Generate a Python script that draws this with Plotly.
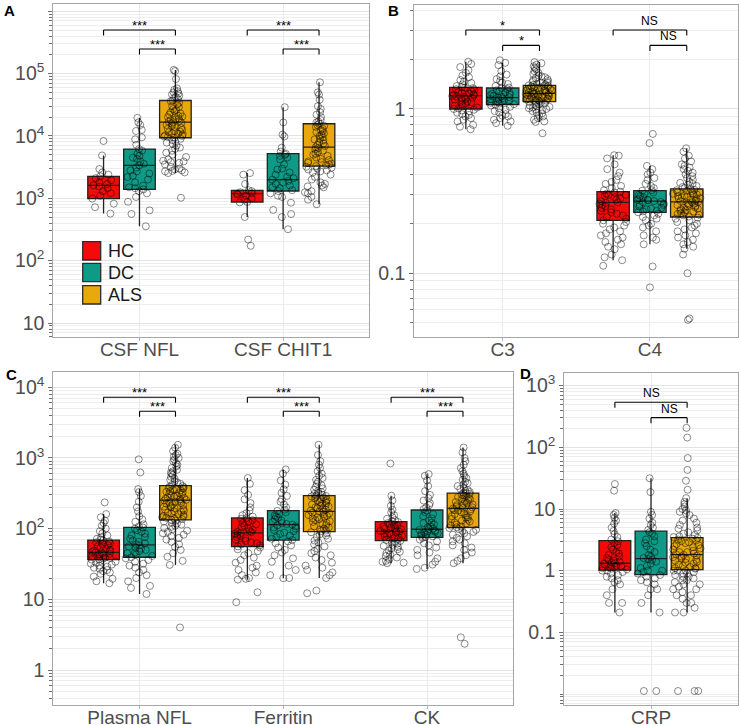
import plotly.graph_objects as go

# ---------------- data ----------------
groups = ["HC", "DC", "ALS"]

cats_a = ["CSF NFL", "CSF CHIT1"]
cats_b = ["C3", "C4"]
cats_c = ["Plasma NFL", "Ferritin", "CK"]
cats_d = ["CRP"]

# box statistics per category: [lower whisker, Q1, median, Q3, upper whisker]
box_a_hc = [[569, 990, 1615, 2250, 4870], [501, 873, 1188, 1343, 2540]]
box_a_dc = [[356, 1393, 3375, 6150, 19500], [319, 1310, 1990, 5190, 28900]]
box_a_als = [[2540, 9350, 16600, 37000, 114500], [802, 3290, 6620, 15700, 72600]]

box_b_hc = [[0.752, 1.0, 1.205, 1.355, 1.94], [0.12, 0.21, 0.27, 0.314, 0.523]]
box_b_dc = [[0.791, 1.062, 1.172, 1.342, 1.91], [0.15, 0.235, 0.275, 0.318, 0.45]]
box_b_als = [[0.833, 1.108, 1.245, 1.394, 1.93], [0.141, 0.22, 0.272, 0.326, 0.576]]

box_c_hc = [[16.9, 36.5, 46.3, 69, 161], [19, 55.7, 87, 141.6, 520], [32.4, 67.8, 91.6, 125.6, 292]]
box_c_dc = [[11.9, 39.4, 58.8, 104, 363], [19.9, 69, 114, 179.5, 689], [26.9, 75.5, 98, 183.6, 591]]
box_c_als = [[30.7, 133, 254, 405, 1535], [20, 90.8, 175.6, 292.6, 1535], [32.4, 104, 193.6, 319, 1405]]

box_d_hc = [[0.21, 1.02, 1.32, 3.08, 8.6]]
box_d_dc = [[0.21, 0.86, 1.57, 4.37, 31.5]]
box_d_als = [[0.21, 1.04, 1.82, 3.44, 15]]

csf_nfl_hc = [8300, 4870, 2950, 2600, 2400, 2250, 2100, 1950, 1800, 1700, 1615, 1550, 1450, 1300,
              1200, 1100, 990, 820, 720, 569]
csf_nfl_dc = [19500, 16500, 15000, 12500, 12000, 9500, 8800, 7200, 6150, 5800, 5200, 4800, 4300, 3900,
              3600, 3375, 3100, 2800, 2500, 2300, 2200, 2000, 1800, 1600, 1500, 1450, 1393, 1300, 1200,
              1050, 880, 640, 560, 356, 2700, 4500]
csf_nfl_als = [114500, 110000, 82000, 58000, 55000, 52000, 50000, 48000, 46000, 44000, 42000, 41000,
               39000, 37000, 36000, 34000, 32000, 30000, 29000, 27000, 26000, 25000, 24000, 23000, 22000,
               21000, 20500, 20000, 19000, 18500, 18000, 17500, 17000, 16600, 16200, 15800, 15000, 14500,
               14000, 13500, 13000, 12500, 12000, 11800, 11500, 11000, 10800, 10500, 10200, 10000, 9800,
               9600, 9350, 9000, 8600, 8200, 7800, 7500, 7000, 6500, 6200, 5800, 5400, 5000, 4600, 4200,
               4000, 3900, 3800, 3700, 3500, 3200, 3000, 2900, 2800, 2750, 2700, 2600, 2540, 1020]
csf_chit1_hc = [2540, 2400, 1700, 1343, 1300, 1250, 1200, 1188, 1150, 1100, 1000, 950, 873, 860, 501, 218, 173]
csf_chit1_dc = [28900, 16500, 10500, 9800, 6500, 5600, 5190, 5000, 4800, 4200, 3500, 3000, 2900, 2600,
                2400, 2200, 2100, 1990, 1900, 1800, 1700, 1600, 1500, 1450, 1350, 1310, 1200, 1100, 1050,
                850, 650, 560, 500, 319, 4500]
csf_chit1_als = [72600, 50000, 46000, 38000, 30000, 27000, 24000, 22000, 20000, 18000, 17000, 16500,
                 15700, 15000, 14500, 14000, 13000, 12500, 12000, 11500, 11000, 10500, 10000, 9500, 9000,
                 8800, 8500, 8000, 7600, 7200, 6900, 6620, 6400, 6100, 5800, 5500, 5200, 5000, 4800, 4500,
                 4300, 4100, 3900, 3700, 3600, 3500, 3400, 3290, 3200, 3100, 3000, 2900, 2800, 2700, 2600,
                 2400, 2200, 2000, 1800, 1700, 1600, 1550, 1500, 1300, 1250, 1200, 1050, 950, 802, 3800]

c3_hc = [1.94, 1.88, 1.8, 1.72, 1.66, 1.6, 1.56, 1.5, 1.47, 1.44, 1.41, 1.38, 1.36, 1.35, 1.34, 1.32,
         1.31, 1.3, 1.28, 1.27, 1.25, 1.24, 1.23, 1.22, 1.21, 1.2, 1.19, 1.18, 1.17, 1.16, 1.15, 1.14,
         1.12, 1.11, 1.1, 1.08, 1.07, 1.05, 1.04, 1.02, 1.01, 1.0, 0.99, 0.98, 0.97, 0.95, 0.93, 0.92,
         0.9, 0.88, 0.86, 0.84, 0.8, 0.78, 0.752]
c3_dc = [1.98, 1.91, 1.85, 1.7, 1.62, 1.58, 1.52, 1.48, 1.45, 1.42, 1.38, 1.35, 1.34, 1.32, 1.3, 1.28,
         1.26, 1.24, 1.22, 1.21, 1.2, 1.19, 1.18, 1.17, 1.16, 1.15, 1.14, 1.13, 1.12, 1.11, 1.1, 1.09,
         1.08, 1.07, 1.06, 1.05, 1.03, 1.01, 0.99, 0.97, 0.95, 0.93, 0.91, 0.9, 0.88, 0.86, 0.84, 0.82,
         0.79, 1.25]
c3_als = [1.93, 1.9, 1.86, 1.82, 1.78, 1.74, 1.7, 1.66, 1.63, 1.6, 1.58, 1.56, 1.54, 1.52, 1.5, 1.48,
          1.46, 1.45, 1.44, 1.42, 1.41, 1.4, 1.39, 1.385, 1.38, 1.37, 1.36, 1.355, 1.35, 1.34, 1.33, 1.325,
          1.32, 1.31, 1.3, 1.295, 1.29, 1.28, 1.27, 1.265, 1.26, 1.25, 1.245, 1.24, 1.235, 1.23, 1.22,
          1.215, 1.21, 1.2, 1.195, 1.19, 1.18, 1.175, 1.17, 1.16, 1.155, 1.15, 1.145, 1.14, 1.13, 1.125,
          1.12, 1.115, 1.11, 1.1, 1.09, 1.08, 1.07, 1.06, 1.05, 1.04, 1.03, 1.02, 1.01, 1.0, 0.99, 0.98,
          0.97, 0.95, 0.94, 0.92, 0.9, 0.88, 0.86, 0.84, 0.833, 0.711]
c4_hc = [0.523, 0.52, 0.5, 0.46, 0.43, 0.41, 0.39, 0.37, 0.36, 0.35, 0.34, 0.33, 0.32, 0.314, 0.31,
         0.305, 0.3, 0.295, 0.29, 0.285, 0.28, 0.275, 0.27, 0.268, 0.265, 0.26, 0.255, 0.25, 0.245, 0.24,
         0.235, 0.23, 0.225, 0.22, 0.215, 0.21, 0.205, 0.2, 0.195, 0.19, 0.185, 0.18, 0.175, 0.17, 0.165,
         0.16, 0.155, 0.15, 0.145, 0.14, 0.13, 0.125, 0.12, 0.111, 0.3]
c4_dc = [0.705, 0.62, 0.45, 0.43, 0.41, 0.4, 0.38, 0.37, 0.35, 0.34, 0.33, 0.32, 0.318, 0.31, 0.305, 0.3,
         0.295, 0.29, 0.285, 0.28, 0.278, 0.275, 0.272, 0.27, 0.265, 0.262, 0.26, 0.255, 0.25, 0.248,
         0.245, 0.24, 0.238, 0.235, 0.23, 0.225, 0.22, 0.215, 0.21, 0.2, 0.195, 0.19, 0.18, 0.17, 0.165,
         0.16, 0.15, 0.11, 0.082, 0.28]
c4_als = [0.576, 0.55, 0.52, 0.5, 0.48, 0.46, 0.45, 0.44, 0.43, 0.42, 0.41, 0.4, 0.39, 0.38, 0.37, 0.36,
          0.355, 0.35, 0.345, 0.34, 0.335, 0.33, 0.325, 0.322, 0.32, 0.317, 0.315, 0.312, 0.31, 0.307,
          0.305, 0.302, 0.3, 0.297, 0.295, 0.292, 0.29, 0.287, 0.285, 0.282, 0.28, 0.277, 0.275, 0.272,
          0.27, 0.267, 0.265, 0.262, 0.26, 0.257, 0.255, 0.252, 0.25, 0.247, 0.245, 0.242, 0.24, 0.237,
          0.235, 0.232, 0.23, 0.227, 0.225, 0.222, 0.218, 0.215, 0.21, 0.205, 0.2, 0.195, 0.19, 0.185,
          0.18, 0.175, 0.17, 0.165, 0.16, 0.155, 0.15, 0.145, 0.141, 0.13, 0.1, 0.053, 0.052]

pnfl_hc = [235, 161, 145, 130, 120, 110, 100, 92, 86, 80, 76, 72, 70, 68, 66, 64, 62, 60, 58, 56, 54, 52,
           50, 49, 48, 47, 46, 45, 44, 43, 42, 41, 40, 39, 38.5, 38, 37, 36.5, 35, 34, 33, 32, 31, 30, 29,
           28, 27, 26, 25, 24, 23, 21, 19.5, 18, 16.9]
pnfl_dc = [955, 624, 363, 330, 290, 240, 200, 175, 150, 135, 125, 115, 108, 104, 100, 95, 90, 85, 80, 76,
           72, 68, 65, 62, 60, 58, 56, 54, 52, 50, 48, 46, 45, 43, 41, 39.4, 38, 36, 34, 32, 30, 28, 26, 24,
           22, 20, 18, 15.5, 14.5, 11.9]
pnfl_als = [1535, 1400, 1250, 1150, 1100, 1050, 1000, 950, 900, 850, 800, 760, 720, 680, 650, 620, 600,
            570, 540, 510, 490, 470, 450, 430, 415, 400, 392, 385, 378, 370, 362, 355, 348, 340, 332, 325,
            318, 310, 303, 296, 290, 284, 278, 272, 266, 260, 255, 250, 245, 240, 235, 230, 225, 220, 215,
            210, 205, 200, 195, 190, 185, 180, 176, 172, 168, 164, 160, 156, 152, 148, 145, 142, 139, 136,
            134, 130, 126, 122, 118, 114, 110, 106, 102, 98, 94, 90, 86, 82, 78, 74, 70, 65, 60, 55, 50,
            45, 40, 35, 30.7, 4.0]
ferr_hc = [520, 430, 350, 300, 260, 230, 200, 180, 165, 155, 148, 141, 138, 132, 126, 120, 115, 110, 105,
           100, 96, 92, 89, 87, 85, 82, 79, 76, 73, 70, 67, 64, 62, 60, 58, 56, 54, 51, 48, 45, 42, 39, 36,
           33, 30, 28, 26, 24, 22, 20, 19, 19.5, 12.6, 9.1, 90]
ferr_dc = [689, 600, 480, 420, 360, 320, 290, 260, 240, 220, 200, 185, 178, 170, 162, 155, 148, 142, 136,
           130, 125, 120, 116, 114, 111, 108, 104, 100, 96, 92, 88, 84, 80, 76, 72, 69, 66, 62, 58, 54, 50,
           46, 42, 38, 34, 30, 26, 22, 20, 19.9]
ferr_als = [1535, 1100, 900, 800, 720, 650, 600, 560, 520, 490, 460, 430, 410, 390, 370, 355, 340, 330,
            320, 310, 300, 296, 290, 285, 280, 274, 268, 262, 256, 250, 244, 238, 232, 226, 220, 215, 210,
            205, 200, 195, 190, 185, 180, 176, 172, 168, 164, 160, 156, 152, 148, 144, 140, 136, 132, 128,
            124, 120, 116, 112, 108, 104, 100, 97, 94, 92, 89, 86, 83, 80, 76, 72, 68, 64, 60, 56, 52, 48,
            45, 42, 39, 36, 33, 30, 28, 26, 24, 22, 20, 13.3, 12.2]
ck_hc = [835, 292, 250, 210, 185, 170, 155, 145, 138, 132, 127, 124, 120, 116, 113, 110, 107, 104, 101, 98,
         95, 93, 91, 89, 87, 85, 83, 81, 79, 77, 75, 73, 71, 69, 67, 65, 63, 61, 59, 57, 55, 53, 51, 49, 47,
         45, 43, 41, 39, 37, 35, 34, 33, 32.4, 100]
ck_dc = [591, 560, 480, 400, 340, 300, 270, 250, 230, 215, 200, 190, 180, 170, 160, 150, 140, 130, 122,
         115, 108, 104, 100, 98, 96, 94, 92, 90, 88, 86, 84, 82, 80, 78, 76, 74, 70, 66, 62, 58, 54, 50, 46,
         42, 38, 34, 31, 28, 26.9, 120]
ck_als = [1405, 1200, 1000, 900, 800, 720, 650, 600, 560, 520, 490, 460, 440, 420, 400, 380, 365, 350, 340,
          330, 322, 318, 310, 302, 295, 288, 280, 272, 265, 258, 250, 244, 238, 232, 226, 220, 215, 210, 205,
          200, 196, 192, 188, 184, 180, 175, 170, 165, 160, 155, 150, 146, 142, 138, 134, 130, 126, 122, 118,
          114, 110, 107, 105, 102, 99, 96, 93, 90, 86, 82, 78, 74, 70, 66, 62, 58, 54, 50, 46, 42, 38, 35,
          32.4, 2.9, 2.35]

crp_hc = [25.4, 19.8, 8.6, 8.0, 7.2, 6.5, 5.8, 5.0, 4.4, 3.9, 3.5, 3.2, 3.0, 2.8, 2.6, 2.4, 2.2, 2.0, 1.9,
          1.8, 1.7, 1.6, 1.5, 1.45, 1.4, 1.35, 1.32, 1.3, 1.25, 1.2, 1.18, 1.15, 1.12, 1.1, 1.08, 1.05, 1.0,
          1.0, 0.95, 0.9, 0.85, 0.8, 0.75, 0.7, 0.65, 0.6, 0.5, 0.4, 0.3, 0.3, 0.21]
crp_dc = [31.5, 18.8, 9.0, 8.0, 7.0, 6.0, 5.5, 5.0, 4.6, 4.2, 4.0, 3.6, 3.2, 3.0, 2.8, 2.5, 2.2, 2.0, 1.8,
          1.7, 1.6, 1.55, 1.5, 1.4, 1.3, 1.2, 1.1, 1.0, 1.0, 0.95, 0.9, 0.85, 0.8, 0.75, 0.7, 0.65, 0.6, 0.5,
          0.5, 0.4, 0.3, 0.21, 0.0112, 0.0112]
crp_als = [207, 144, 67, 43, 28.7, 20.5, 15, 13, 12, 11, 10, 9.5, 9, 8.5, 8, 7, 6.5, 6, 5.5, 5, 4.8, 4.5,
           4.2, 4, 3.8, 3.6, 3.5, 3.4, 3.3, 3.2, 3.1, 3.0, 2.9, 2.8, 2.7, 2.6, 2.5, 2.4, 2.3, 2.2, 2.1, 2.0,
           2.0, 1.9, 1.85, 1.8, 1.75, 1.7, 1.65, 1.6, 1.55, 1.5, 1.45, 1.4, 1.35, 1.3, 1.25, 1.2, 1.15, 1.1,
           1.1, 1.08, 1.0, 1.0, 1.0, 0.95, 0.9, 0.9, 0.85, 0.8, 0.8, 0.75, 0.7, 0.7, 0.65, 0.6, 0.6, 0.55,
           0.5, 0.5, 0.45, 0.4, 0.4, 0.35, 0.3, 0.3, 0.25, 0.21, 0.21, 0.0112, 0.0112, 0.0112]

# significance labels: (category, group from, group to, label)
sig_a = [("CSF NFL", "HC", "ALS", "***"), ("CSF NFL", "DC", "ALS", "***"),
         ("CSF CHIT1", "HC", "ALS", "***"), ("CSF CHIT1", "DC", "ALS", "***")]
sig_b = [("C3", "HC", "ALS", "*"), ("C3", "DC", "ALS", "*"),
         ("C4", "HC", "ALS", "NS"), ("C4", "DC", "ALS", "NS")]
sig_c = [("Plasma NFL", "HC", "ALS", "***"), ("Plasma NFL", "DC", "ALS", "***"),
         ("Ferritin", "HC", "ALS", "***"), ("Ferritin", "DC", "ALS", "***"),
         ("CK", "HC", "ALS", "***"), ("CK", "DC", "ALS", "***")]
sig_d = [("CRP", "HC", "ALS", "NS"), ("CRP", "DC", "ALS", "NS")]

# ---------------- styling ----------------
W, H = 740, 725
FONT = "Liberation Sans, Arial, sans-serif"
fill_colors = {"HC": "#F50A0A", "DC": "#0E9A86", "ALS": "#E9A90C"}
BOXGAP = 0.25
SLOT = (1 - BOXGAP) / 3
offsets = {"HC": -SLOT, "DC": 0.0, "ALS": SLOT}


def px_x(x):
    return x / W


def px_y(y):
    return 1 - y / H


panels = [
    dict(key="a", xa="x", ya="y", cats=cats_a,
         boxes={"HC": box_a_hc, "DC": box_a_dc, "ALS": box_a_als},
         pts={"HC": [csf_nfl_hc, csf_chit1_hc], "DC": [csf_nfl_dc, csf_chit1_dc],
              "ALS": [csf_nfl_als, csf_chit1_als]},
         sig=sig_a, xdom=(53.3, 369.3), ydom=(337.3, 4.0), yr=(0.771, 6.116),
         tv=[10, 1e2, 1e3, 1e4, 1e5, 1e6],
         tt=["10", "10<sup>2</sup>", "10<sup>3</sup>", "10<sup>4</sup>", "10<sup>5</sup>", "10<sup>6</sup>"],
         lv=(5.699, 5.395), tick=0.088),
    dict(key="b", xa="x2", ya="y2", cats=cats_b,
         boxes={"HC": box_b_hc, "DC": box_b_dc, "ALS": box_b_als},
         pts={"HC": [c3_hc, c4_hc], "DC": [c3_dc, c4_dc], "ALS": [c3_als, c4_als]},
         sig=sig_b, xdom=(414.3, 738.3), ydom=(337.3, 5.0), yr=(-1.39, 0.633),
         tv=[0.1, 1], tt=["0.1", "1"], lv=(0.481, 0.387), tick=0.0335),
    dict(key="c", xa="x3", ya="y3", cats=cats_c,
         boxes={"HC": box_c_hc, "DC": box_c_dc, "ALS": box_c_als},
         pts={"HC": [pnfl_hc, ferr_hc, ck_hc], "DC": [pnfl_dc, ferr_dc, ck_dc],
              "ALS": [pnfl_als, ferr_als, ck_als]},
         sig=sig_c, xdom=(53.3, 513.3), ydom=(705.0, 372.3), yr=(-0.495, 4.212),
         tv=[1, 10, 1e2, 1e3, 1e4],
         tt=["1", "10", "10<sup>2</sup>", "10<sup>3</sup>", "10<sup>4</sup>"],
         lv=(3.858, 3.66), tick=0.078),
    dict(key="d", xa="x4", ya="y4", cats=cats_d,
         boxes={"HC": box_d_hc, "DC": box_d_dc, "ALS": box_d_als},
         pts={"HC": [crp_hc], "DC": [crp_dc], "ALS": [crp_als]},
         sig=sig_d, xdom=(564.3, 737.7), ydom=(705.0, 372.7), yr=(-2.178, 3.21),
         tv=[0.1, 1, 10, 1e2, 1e3],
         tt=["0.1", "1", "10", "10<sup>2</sup>", "10<sup>3</sup>"],
         lv=(2.731, 2.481), tick=0.089),
]

fig = go.Figure()
shapes = []
annotations = []
layout_axes = {}

for p in panels:
    # boxes from summary statistics
    for g in groups:
        st = p["boxes"][g]
        fig.add_trace(go.Box(
            x=p["cats"],
            lowerfence=[s[0] for s in st], q1=[s[1] for s in st], median=[s[2] for s in st],
            q3=[s[3] for s in st], upperfence=[s[4] for s in st],
            fillcolor=fill_colors[g], line=dict(color="#222222", width=1.3),
            whiskerwidth=0, boxpoints=False, offsetgroup=g, alignmentgroup=p["key"],
            xaxis=p["xa"], yaxis=p["ya"], showlegend=False, hoverinfo="skip", name=g))
    # jittered observations on top
    for g in groups:
        xs, ys = [], []
        for cat, vals in zip(p["cats"], p["pts"][g]):
            xs += [cat] * len(vals)
            ys += vals
        fig.add_trace(go.Box(
            x=xs, y=ys, boxpoints="all", jitter=0.9, pointpos=0,
            fillcolor="rgba(0,0,0,0)", line=dict(color="rgba(0,0,0,0)", width=0),
            marker=dict(symbol="circle-open", size=7, color="rgba(0,0,0,0.5)",
                        line=dict(width=0.9, color="rgba(0,0,0,0.5)")),
            offsetgroup=g, alignmentgroup=p["key"], xaxis=p["xa"], yaxis=p["ya"],
            showlegend=False, hoverinfo="skip", name=g))

    xname = "xaxis" + p["xa"][1:]
    yname = "yaxis" + p["ya"][1:]
    layout_axes[xname] = dict(
        domain=[px_x(p["xdom"][0]), px_x(p["xdom"][1])], anchor=p["ya"], type="category",
        categoryorder="array", categoryarray=p["cats"], automargin=False,
        range=[-0.6, len(p["cats"]) - 1 + 0.6], showgrid=True, gridcolor="#EBEBEB", gridwidth=1,
        ticks="outside", ticklen=3, tickcolor="#B3B3B3", showline=True, mirror=True,
        linecolor="#A6A6A6", linewidth=1, zeroline=False, ticklabelstandoff=-8,
        tickfont=dict(family=FONT, size=19, color="#4D4D4D"))
    layout_axes[yname] = dict(
        domain=[px_y(p["ydom"][0]), px_y(p["ydom"][1])], anchor=p["xa"], type="log", automargin=False,
        range=list(p["yr"]), tickmode="array", tickvals=p["tv"], ticktext=p["tt"],
        ticks="outside", ticklen=4, tickcolor="#6E6E6E", showgrid=True, gridcolor="#E3E3E3",
        gridwidth=1, showline=True, mirror=True, linecolor="#A6A6A6", linewidth=1, zeroline=False,
        tickfont=dict(family=FONT, size=19.5, color="#4D4D4D"),
        minor=dict(tickmode="linear", dtick="D1", ticks="outside", ticklen=3, tickcolor="#6E6E6E",
                   showgrid=True, gridcolor="#EDEDED", gridwidth=0.8))

    # significance brackets (shape y in data units, annotation y in log10 units)
    ci = {c: i for i, c in enumerate(p["cats"])}
    for k, (cat, g1, g2, lab) in enumerate(p["sig"]):
        lvl = p["lv"][k % 2]
        x1 = ci[cat] + offsets[g1]
        x2 = ci[cat] + offsets[g2]
        top = 10 ** lvl
        bot = 10 ** (lvl - p["tick"])
        for xa_, xb_, ya_, yb_ in [(x1, x2, top, top), (x1, x1, top, bot), (x2, x2, top, bot)]:
            shapes.append(dict(type="line", xref=p["xa"], yref=p["ya"], x0=xa_, x1=xb_,
                               y0=ya_, y1=yb_, line=dict(color="black", width=1.1)))
        annotations.append(dict(xref=p["xa"], yref=p["ya"], x=(x1 + x2) / 2, y=lvl,
                                text=lab, showarrow=False, yanchor="bottom",
                                yshift=-5 if "*" in lab else 0,
                                font=dict(family=FONT, size=13 if "*" in lab else 12, color="black")))

# panel letters
for lab, x, y in [("A", 9, 10), ("B", 393, 10), ("C", 11, 374), ("D", 525, 373)]:
    annotations.append(dict(xref="paper", yref="paper", x=px_x(x), y=px_y(y), text="<b>%s</b>" % lab,
                            showarrow=False, xanchor="center", yanchor="middle",
                            font=dict(family=FONT, size=15, color="black")))

# legend (drawn inside panel A)
for g, (y0, y1) in zip(groups, [(241.7, 260.0), (263.3, 281.7), (285.7, 304.0)]):
    shapes.append(dict(type="rect", xref="paper", yref="paper", x0=px_x(82.7), x1=px_x(100.7),
                       y0=px_y(y1), y1=px_y(y0), fillcolor=fill_colors[g],
                       line=dict(color="#2b2b2b", width=1.3)))
    annotations.append(dict(xref="paper", yref="paper", x=px_x(106), y=px_y((y0 + y1) / 2), text=g,
                            showarrow=False, xanchor="left", yanchor="middle",
                            font=dict(family=FONT, size=18, color="#1A1A1A")))

fig.update_layout(
    width=W, height=H, margin=dict(l=0, r=0, t=0, b=0, autoexpand=False),
    paper_bgcolor="white", plot_bgcolor="white",
    boxmode="group", boxgap=BOXGAP, boxgroupgap=0.12,
    showlegend=False, shapes=shapes, annotations=annotations,
    font=dict(family=FONT), **layout_axes)

fig.write_html("out.html", config={"displayModeBar": False},
               post_script="document.body.style.margin='0';document.body.style.padding='0';"
                           "document.body.style.overflow='hidden';")
